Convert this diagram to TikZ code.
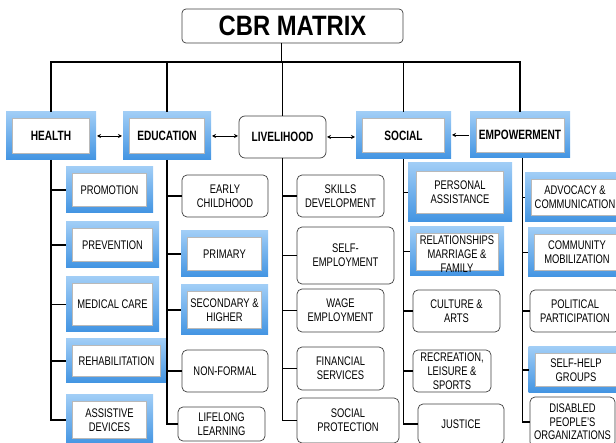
\documentclass[tikz,border=0pt]{standalone}
\usepackage{fontspec}
\setmainfont{Liberation Sans}[FakeStretch=0.75]
\newfontfamily\cbrfont{Liberation Sans}[FakeStretch=0.85]
\usetikzlibrary{arrows.meta}
\definecolor{bluetop}{RGB}{160,205,246}
\definecolor{bluebot}{RGB}{66,148,226}
\begin{document}
\begin{tikzpicture}[x=1pt,y=-1pt,
  every node/.style={inner sep=0pt, outer sep=0pt, align=center,
    font=\fontsize{12.5}{14}\selectfont},
  bluebox/.style={draw=none, top color=bluetop, bottom color=bluebot,
    path picture={\draw[gray!55, line width=0.6pt, fill=white]
      ([shift={(#1,-#1)}]path picture bounding box.north west) rectangle
      ([shift={(-#1,#1)}]path picture bounding box.south east);}},
  bluebox/.default=6.5pt,
  rbox/.style={draw=black!75, line width=0.7pt, rounded corners=5pt, fill=white},
  head/.style={font=\fontsize{13.5}{15}\selectfont\bfseries},
  trunk/.style={line width=1.8pt},
  arr/.style={line width=0.7pt, >={Stealth[length=4pt,width=4pt]},
    shorten <=1pt, shorten >=1pt}]
\useasboundingbox (0,0) rectangle (616,443);
\clip (0,0) rectangle (616,443);

% title
\node[rbox, rounded corners=4pt, minimum width=221pt, minimum height=34pt,
  font=\cbrfont\fontsize{28}{30}\selectfont\bfseries] (cbr) at (292.5,26) {CBR MATRIX};

% level 1
\node[bluebox, head, minimum width=90pt, minimum height=48pt] (health) at (51,136) {HEALTH};
\node[bluebox, head, minimum width=88pt, minimum height=48pt] (edu) at (167,136) {EDUCATION};
\node[rbox, rounded corners=6pt, head, minimum width=87pt, minimum height=42pt] (live) at (282.5,137) {LIVELIHOOD};
\node[bluebox, head, minimum width=95pt, minimum height=47pt] (soc) at (403.5,135.5) {SOCIAL};
\node[bluebox=6pt, head, minimum width=100pt, minimum height=46pt] (emp) at (520,135) {EMPOWERMENT};

% health
\node[bluebox, minimum width=87pt, minimum height=46pt] (h1) at (109.5,190) {PROMOTION};
\node[bluebox, minimum width=93pt, minimum height=46pt] (h2) at (112.5,245) {PREVENTION};
\node[bluebox, minimum width=93pt, minimum height=55pt] (h3) at (112.5,304.5) {MEDICAL CARE};
\node[bluebox, minimum width=101pt, minimum height=44pt] (h4) at (116.5,361) {REHABILITATION};
\node[bluebox, minimum width=87pt, minimum height=50pt] (h5) at (109.5,420) {ASSISTIVE\\DEVICES};

% education
\node[rbox, minimum width=86pt, minimum height=42pt] (e1) at (225,196) {EARLY\\CHILDHOOD};
\node[bluebox, minimum width=87pt, minimum height=46pt] (e2) at (224.5,254) {PRIMARY};
\node[bluebox, minimum width=87pt, minimum height=50pt] (e3) at (224.5,310) {SECONDARY \&\\HIGHER};
\node[rbox, minimum width=86pt, minimum height=42pt] (e4) at (225,371) {NON-FORMAL};
\node[rbox, minimum width=87pt, minimum height=34pt] (e5) at (221.5,424) {LIFELONG\\LEARNING};

% livelihood
\node[rbox, minimum width=87pt, minimum height=42pt] (l1) at (340.5,196) {SKILLS\\DEVELOPMENT};
\node[rbox, minimum width=97pt, minimum height=57pt] (l2) at (345.5,255.5) {SELF-\\EMPLOYMENT};
\node[rbox, minimum width=87pt, minimum height=43pt] (l3) at (340.5,310.5) {WAGE\\EMPLOYMENT};
\node[rbox, minimum width=87pt, minimum height=43pt] (l4) at (340.5,368.5) {FINANCIAL\\SERVICES};
\node[rbox, minimum width=102pt, minimum height=45pt] (l5) at (348,420.5) {SOCIAL\\PROTECTION};

% social
\node[bluebox=8.5pt, minimum width=104pt, minimum height=59pt] (s1) at (460,192.5) {PERSONAL\\ASSISTANCE};
\node[bluebox=6pt, minimum width=94pt, minimum height=49pt] (s2) at (457,251.5)
  {\raisebox{-7.6pt}[0pt][0pt]{\begin{tabular}{@{}c@{}}RELATIONSHIPS\\MARRIAGE \&\\FAMILY\end{tabular}}};
\node[rbox, minimum width=87pt, minimum height=42pt] (s3) at (456.5,311) {CULTURE \&\\ARTS};
\node[rbox, minimum width=78pt, minimum height=42pt] (s4) at (452,371) {RECREATION,\\LEISURE \&\\SPORTS};
\node[rbox, minimum width=86pt, minimum height=40pt] (s5) at (461,424) {JUSTICE};

% empowerment
\node[bluebox, minimum width=100pt, minimum height=49pt] (p1) at (575,197.5) {ADVOCACY \&\\COMMUNICATION};
\node[bluebox, minimum width=98pt, minimum height=49pt] (p2) at (577,252.5) {COMMUNITY\\MOBILIZATION};
\node[rbox, minimum width=90pt, minimum height=42pt] (p3) at (575,311) {POLITICAL\\PARTICIPATION};
\node[bluebox, minimum width=95pt, minimum height=46pt] (p4) at (576,370) {SELF-HELP\\GROUPS};
\node[rbox, minimum width=85pt, minimum height=50pt, font=\fontsize{12.5}{13.5}\selectfont] (p5) at (572.5,422) {DISABLED\\PEOPLE'S\\ORGANIZATIONS};

% trunk from title
\coordinate (bar) at (281,62);
\draw[line width=1pt] (cbr.south -| bar) -- (bar);
\draw[trunk] (health.north) -- (health.north |- bar) -- (emp.north |- bar) -- (emp.north);
\foreach \n in {edu,live,soc} \draw[trunk] (\n.north) -- (\n.north |- bar);

% level-1 arrows
\draw[arr,<->] (health.east) -- (health.east -| edu.west);
\draw[arr,<->] (edu.east) -- (edu.east -| live.west);
\draw[arr,<->] (live.east) -- (live.east -| soc.west);
\draw[arr,->] (emp.west) -- (emp.west -| soc.east);

% columns
\draw[trunk] (health.south) |- (h5.west);
\foreach \c in {h1,h2,h3,h4} \draw[trunk] (health.south |- \c.west) -- (\c.west);
\draw[trunk] (edu.south) |- (e5.west);
\foreach \c in {e1,e2,e3,e4} \draw[trunk] (edu.south |- \c.west) -- (\c.west);
\draw[trunk] (live.south) |- (l5.west);
\foreach \c in {l1,l2,l3,l4} \draw[trunk] (live.south |- \c.west) -- (\c.west);
\draw[trunk] (soc.south) |- (s5.west);
\foreach \c in {s1,s2,s3,s4} \draw[trunk] (soc.south |- \c.west) -- (\c.west);
\coordinate (pcol) at ([xshift=2.5pt]emp.south);
\draw[trunk] (pcol) |- (p5.west);
\foreach \c in {p1,p2,p3,p4} \draw[trunk] (pcol |- \c.west) -- (\c.west);
\end{tikzpicture}
\end{document}
